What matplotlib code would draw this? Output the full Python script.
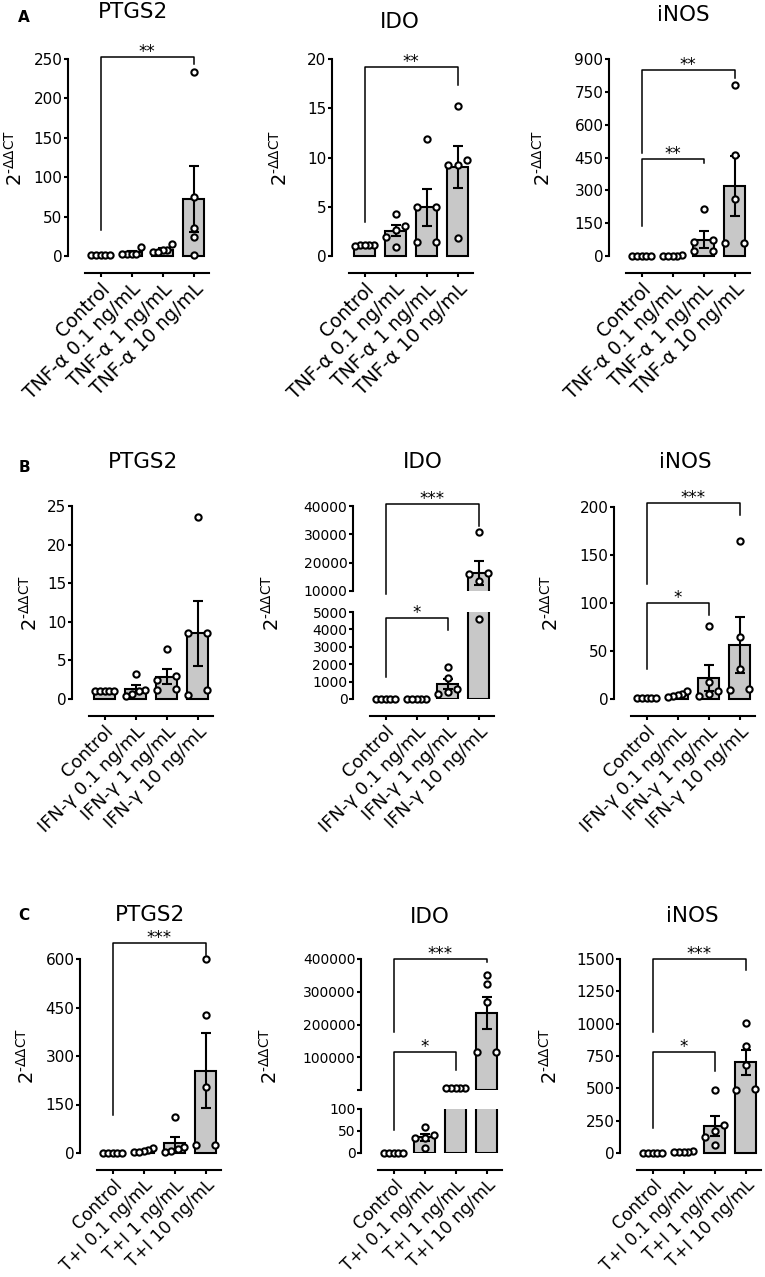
import matplotlib
matplotlib.use('Agg')
import matplotlib.pyplot as plt
import numpy as np
from matplotlib.lines import Line2D
from matplotlib.ticker import FixedLocator

plt.rcParams['font.family'] = ['DejaVu Sans']
plt.rcParams['mathtext.fontset'] = 'dejavusans'

W, H = 765, 1277          # output size in pixels
UNIT = 31.0               # pixels between two bars
AX_W = 4.6 * UNIT         # axes width (xlim -1.05 .. 3.55)
BAR = '#c8c8c8'

# ---- groups (x tick labels) ----
a_groups = ['Control', 'TNF-α 0.1 ng/mL', 'TNF-α 1 ng/mL', 'TNF-α 10 ng/mL']
b_groups = ['Control', 'IFN-γ 0.1 ng/mL', 'IFN-γ 1 ng/mL', 'IFN-γ 10 ng/mL']
c_groups = ['Control', 'T+I 0.1 ng/mL', 'T+I 1 ng/mL', 'T+I 10 ng/mL']

ylab = r'$2^{\mathrm{‐\Delta\Delta CT}}$'

# ---- A: TNF-alpha ----
a_ptgs2_mean = [1.0, 4.5, 8.0, 72]
a_ptgs2_sem = [0.1, 1.5, 2.0, 42]
a_ptgs2_pts = [[1, 1, 1, 1, 1], [11, 3, 2.5, 3, 3], [15, 8, 7, 5, 5], [233, 75, 35, 24, 1]]
a_ptgs2_sig = [(0, 3, 253, 33, 244, '**')]

a_ido_mean = [1.1, 2.56, 4.93, 9.05]
a_ido_sem = [0.05, 0.56, 1.88, 2.15]
a_ido_pts = [[1.15, 1.1, 1.1, 1.1, 1.05], [4.26, 3.05, 2.6, 1.96, 0.95],
             [11.9, 4.94, 4.94, 1.39, 1.39], [15.2, 9.75, 9.24, 9.24, 1.8]]
a_ido_sig = [(0, 3, 19.2, 3.5, 17.4, '**')]

a_inos_mean = [1, 2, 75, 322]
a_inos_sem = [0.2, 0.5, 37, 137]
a_inos_pts = [[1, 1, 1, 1, 1], [3, 2, 2, 1.5, 1.5], [214, 73, 65, 25, 25], [781, 461, 259, 59, 59]]
a_inos_sig = [(0, 3, 849, 472, 813, '**'), (0, 2, 443, 138, 425, '**')]

# ---- B: IFN-gamma ----
b_ptgs2_mean = [1.0, 1.3, 2.9, 8.5]
b_ptgs2_sem = [0.05, 0.5, 0.95, 4.2]
b_ptgs2_pts = [[1, 1, 1, 1, 1], [3.3, 1.2, 1.0, 0.6, 0.4], [6.5, 3.0, 2.4, 1.3, 1.2], [23.6, 8.6, 8.6, 1.2, 0.5]]
b_ptgs2_sig = []

b_ido_mean = [1, 2, 870, 16300]
b_ido_sem = [0.1, 0.5, 300, 4250]
b_ido_pts = [[1, 1, 1, 1, 1], [3, 2, 2, 1, 1], [1850, 1200, 600, 400, 300],
             [31000, 16500, 16000, 13500, 4600]]
# last item: segment (0 upper, 1 lower) of line, left end, right end
b_ido_sig = [(0, 3, 40700, 9000, 33000, '***', (0, 0, 0)),
             (0, 2, 4630, 1257, 3960, '*', (1, 1, 1))]

b_inos_mean = [1, 4.5, 22, 56]
b_inos_sem = [0.1, 1, 13.5, 29]
b_inos_pts = [[1, 1, 1, 1, 1], [8, 5, 4, 3, 2.5], [76, 18, 8, 5, 3], [165, 65, 31, 10, 9]]
b_inos_sig = [(0, 3, 204, 120, 192, '***'), (0, 2, 100, 31, 88, '*')]

# ---- C: TNF-alpha + IFN-gamma ----
c_ptgs2_mean = [1, 7, 30, 255]
c_ptgs2_sem = [0.1, 2.5, 20, 115]
c_ptgs2_pts = [[1, 1, 1, 1, 1], [16, 8, 5, 3, 3], [110, 20, 12, 5, 3], [599, 427, 205, 25, 25]]
c_ptgs2_sig = [(0, 3, 650, 117, 612, '***')]

c_ido_mean = [1, 36, 6000, 235000]
c_ido_sem = [0.1, 8, 700, 50000]
c_ido_pts = [[1, 1, 1, 1, 1], [58, 40, 35, 33, 12], [7500, 6500, 6000, 5200, 4800],
             [351000, 323000, 268000, 116000, 116000]]
c_ido_sig = [(0, 3, 400000, 176000, 391000, '***', (0, 0, 0)),
             (0, 2, 115000, 52, 61000, '*', (0, 1, 0))]

c_inos_mean = [1, 8, 210, 700]
c_inos_sem = [0.2, 2, 75, 100]
c_inos_pts = [[1, 1, 1, 1, 1], [15, 8, 7, 5, 4], [485, 215, 170, 120, 60], [1005, 830, 680, 495, 490]]
c_inos_sig = [(0, 3, 1500, 938, 1415, '***'), (0, 2, 783, 191, 636, '*')]

fig = plt.figure(figsize=(W / 100, H / 100), dpi=100)


def to_fig(ax, x, y):
    d = ax.transData.transform((x, y))
    return fig.transFigure.inverted().transform(d)


def spread(ax, vals):
    # simple swarm: points that touch get spread across the bar
    vals = np.asarray(vals, float)
    ypix = ax.transData.transform(np.c_[np.zeros(len(vals)), vals])[:, 1]
    order = np.argsort(ypix)
    offs = np.zeros(len(vals))
    clusters = [[order[0]]]
    for k in order[1:]:
        if ypix[k] - ypix[clusters[-1][-1]] < 6.5:
            clusters[-1].append(k)
        else:
            clusters.append([k])
    for cl in clusters:
        if len(cl) > 1:
            offs[cl] = np.linspace(-0.3, 0.3, len(cl))
    return offs


def panel(spine_x, segs, groups, mean, sem, pts, sig, title, title_xy, ylab_x,
          xfs=13.5, letter=None):
    axs = []
    for top, bottom, ylim, ticks, fs in segs:
        ax = fig.add_axes([spine_x / W, 1 - bottom / H, AX_W / W, (bottom - top) / H])
        ax.set_xlim(-1.05, 3.55)
        ax.set_ylim(*ylim)
        ax.set_yticks(ticks)
        ax.set_yticklabels([str(t) for t in ticks])
        ax.tick_params(axis='y', length=3, width=1.5, pad=1, labelsize=fs)
        ax.tick_params(axis='y', which='minor', length=3, width=1.5)
        for s in ['top', 'right']:
            ax.spines[s].set_visible(False)
        ax.spines['left'].set_linewidth(1.5)
        ax.patch.set_visible(False)
        axs.append(ax)
    broken = len(axs) > 1
    if broken:
        axs[0].yaxis.set_minor_locator(FixedLocator([segs[0][2][0]]))
    for ax in axs[:-1]:
        ax.spines['bottom'].set_visible(False)
        ax.set_xticks([])
    low = axs[-1]
    low.spines['bottom'].set_linewidth(1.5)
    low.spines['bottom'].set_bounds(-0.5, 3.5)
    low.spines['bottom'].set_position(('outward', 12.2))
    low.set_xticks(range(4))
    low.set_xticklabels(groups, rotation=45, ha='right', va='top', rotation_mode='anchor')
    low.tick_params(axis='x', length=3, width=1.5, pad=1.5, labelsize=xfs)

    xs = np.arange(4)
    mean = np.asarray(mean, float)
    sem = np.asarray(sem, float)
    for ax in axs:
        lo, hi = ax.get_ylim()
        show = mean > lo if broken else np.ones(4, bool)
        ax.bar(xs[show], mean[show], width=0.7, color=BAR, edgecolor='black',
               linewidth=1.5, zorder=2, clip_on=broken)
        ax.errorbar(xs[show], mean[show], yerr=sem[show], fmt='none', ecolor='black',
                    elinewidth=1.5, capsize=3.3, capthick=1.5, zorder=3)
        for i, vals in enumerate(pts):
            vals = np.array(vals, float)
            vals = vals[(vals >= lo) & (vals <= hi)]
            if len(vals) == 0:
                continue
            ax.plot(i + spread(ax, vals), vals, 'o', mfc='white', mec='black', ms=4.5,
                    mew=1.5, clip_on=False, zorder=5)

    for s in sig:
        x1, x2, yh, yl, yr, txt = s[:6]
        sh, sl, sr = s[6] if len(s) > 6 else (0, 0, 0)
        p1 = to_fig(axs[sl], x1, yl)
        p2 = to_fig(axs[sh], x1, yh)
        p3 = to_fig(axs[sh], x2, yh)
        p4 = to_fig(axs[sr], x2, yr)
        fig.add_artist(Line2D([p1[0], p2[0], p3[0], p4[0]], [p1[1], p2[1], p3[1], p4[1]],
                              color='black', lw=1.1, transform=fig.transFigure))
        fig.text((p2[0] + p3[0]) / 2, p2[1], txt, ha='center', va='baseline', fontsize=12)

    fig.text(title_xy[0] / W, 1 - title_xy[1] / H, title, ha='center', va='center', fontsize=15.5)
    yc = (segs[0][0] + segs[-1][1]) / 2
    fig.text(ylab_x / W, 1 - yc / H, ylab, rotation=90, ha='center', va='center', fontsize=14)
    if letter:
        fig.text(24 / W, 1 - letter / H, letter_text[letter], ha='center', va='center',
                 fontsize=11, fontweight='bold')


letter_text = {17: 'A', 467: 'B', 916: 'C'}

# row A
panel(68, [(59, 256, (0, 250), [0, 50, 100, 150, 200, 250], 11)], a_groups,
      a_ptgs2_mean, a_ptgs2_sem, a_ptgs2_pts, a_ptgs2_sig, 'PTGS2', (133, 12), 15, letter=17)
panel(332, [(59, 256, (0, 20), [0, 5, 10, 15, 20], 11)], a_groups,
      a_ido_mean, a_ido_sem, a_ido_pts, a_ido_sig, 'IDO', (400, 22), 280)
panel(609, [(59, 256, (0, 900), [0, 150, 300, 450, 600, 750, 900], 11)], a_groups,
      a_inos_mean, a_inos_sem, a_inos_pts, a_inos_sig, 'iNOS', (683, 15), 543)

# row B
panel(72, [(506, 699, (0, 25), [0, 5, 10, 15, 20, 25], 11)], b_groups,
      b_ptgs2_mean, b_ptgs2_sem, b_ptgs2_pts, b_ptgs2_sig, 'PTGS2', (143, 462), 30,
      xfs=13, letter=467)
panel(353, [(506, 591, (10000, 40000), [10000, 20000, 30000, 40000], 10),
            (612, 699, (0, 5000), [0, 1000, 2000, 3000, 4000, 5000], 10)], b_groups,
      b_ido_mean, b_ido_sem, b_ido_pts, b_ido_sig, 'IDO', (423, 462), 272, xfs=13)
panel(614, [(507, 699, (0, 200), [0, 50, 100, 150, 200], 11)], b_groups,
      b_inos_mean, b_inos_sem, b_inos_pts, b_inos_sig, 'iNOS', (685, 462), 551, xfs=13)

# row C
panel(80, [(959, 1153, (0, 600), [0, 150, 300, 450, 600], 11)], c_groups,
      c_ptgs2_mean, c_ptgs2_sem, c_ptgs2_pts, c_ptgs2_sig, 'PTGS2', (150, 915), 27,
      xfs=12.3, letter=916)
panel(361, [(959, 1090, (100, 400000), [100000, 200000, 300000, 400000], 10),
            (1109, 1153, (0, 100), [0, 50, 100], 10)], c_groups,
      c_ido_mean, c_ido_sem, c_ido_pts, c_ido_sig, 'IDO', (430, 917), 270, xfs=12.3)
panel(620, [(959, 1153, (0, 1500), [0, 250, 500, 750, 1000, 1250, 1500], 11)], c_groups,
      c_inos_mean, c_inos_sem, c_inos_pts, c_inos_sig, 'iNOS', (692, 916), 550, xfs=12.3)

fig.savefig('out.png', dpi=100)
